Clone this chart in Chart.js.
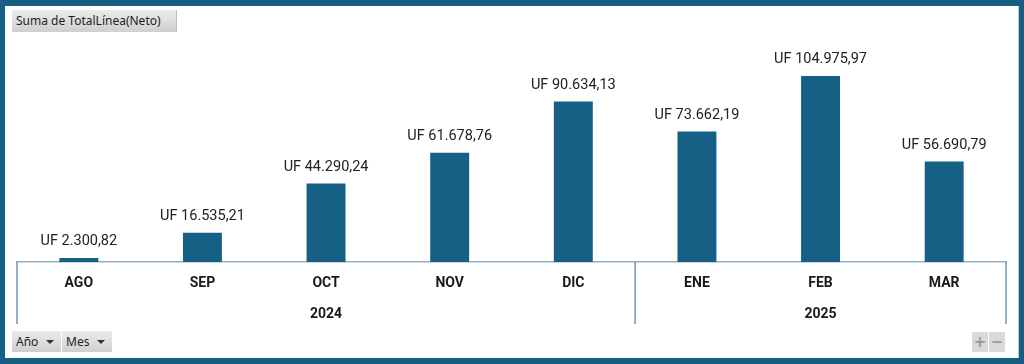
<!DOCTYPE html>
<html>
<head>
<meta charset="utf-8">
<script src="https://cdn.jsdelivr.net/npm/chart.js@4.4.1/dist/chart.umd.min.js"></script>
<style>
  html, body { margin: 0; padding: 0; }
  body { width: 1024px; height: 364px; background: #175f82; position: relative; overflow: hidden; }
  #panel { position: absolute; left: 5px; top: 6px; width: 1013px; height: 352px; background: #fff; border-right: 1px solid #c8c8c8; }
  #c { position: absolute; left: 0; top: 0; }
  .btn { position: absolute; font-family: "Noto Sans", "Open Sans", sans-serif; font-size: 12px; color: #1e1e1e;
         background: linear-gradient(to bottom, #ebebeb, #cfcfcf); box-sizing: border-box; line-height: 21px; }
  #fieldTop { left: 12px; top: 10px; width: 165px; height: 22px; padding-left: 4px; border-right: 1px solid #bdbdbd; }
  #anio { left: 12px; top: 331px; width: 49px; height: 21px; padding-left: 4px; }
  #mes { left: 62px; top: 331px; width: 50px; height: 21px; padding-left: 4px; }
  .arr { position: absolute; right: 7px; top: 9px; width: 0; height: 0; border-left: 4px solid transparent; border-right: 4px solid transparent; border-top: 4px solid #333; }
  .pm { position: absolute; top: 332px; width: 16px; height: 20px; background: #d9d9d9; color: #9a9a9a;
        font-family: "DejaVu Sans", sans-serif; font-size: 15px; font-weight: bold; text-align: center; line-height: 20px; }
  #plus { left: 972px; }
  #minus { left: 989px; }
</style>
</head>
<body>
<div id="panel"></div>
<canvas id="c" width="1024" height="364"></canvas>
<div class="btn" id="fieldTop">Suma de TotalLínea(Neto)</div>
<div class="btn" id="anio">Año<span class="arr"></span></div>
<div class="btn" id="mes">Mes<span class="arr"></span></div>
<div class="pm" id="plus">+</div>
<div class="pm" id="minus">−</div>
<script>
const months = ['AGO', 'SEP', 'OCT', 'NOV', 'DIC', 'ENE', 'FEB', 'MAR'];
const yearLabels = ['', '', '2024', '', '', '', '2025', ''];
const values = [2300.82, 16535.21, 44290.24, 61678.76, 90634.13, 73662.19, 104975.97, 56690.79];
const yearBreakAfter = [4]; // index of last month of each year except final

function fmtUF(v) {
  const parts = v.toFixed(2).split('.');
  const intPart = parts[0].replace(/\B(?=(\d{3})+(?!\d))/g, '.');
  return 'UF ' + intPart + ',' + parts[1];
}

const labelPlugin = {
  id: 'valueLabels',
  afterDatasetsDraw(chart) {
    const ctx = chart.ctx;
    const meta = chart.getDatasetMeta(0);
    ctx.save();
    ctx.font = '14.5px Roboto, "Liberation Sans", sans-serif';
    ctx.fillStyle = '#222';
    ctx.textAlign = 'center';
    ctx.textBaseline = 'bottom';
    meta.data.forEach((bar, i) => {
      ctx.fillText(fmtUF(values[i]), bar.x, bar.y - 9);
    });
    ctx.restore();
  }
};

const sepPlugin = {
  id: 'separators',
  afterDraw(chart) {
    const xs = chart.scales.x;
    const ctx = chart.ctx;
    const top = chart.chartArea.bottom;
    const bottom = top + 62;
    const positions = [xs.left];
    yearBreakAfter.forEach(i => positions.push((xs.getPixelForValue(i) + xs.getPixelForValue(i + 1)) / 2));
    positions.push(xs.right);
    ctx.save();
    ctx.strokeStyle = '#6c97b5';
    ctx.lineWidth = 1.5;
    positions.forEach(p => {
      ctx.beginPath();
      ctx.moveTo(p, top);
      ctx.lineTo(p, bottom);
      ctx.stroke();
    });
    ctx.restore();
  }
};

const tickFont = { family: 'Roboto, "Liberation Sans", sans-serif', size: 14, weight: 'bold' };

new Chart(document.getElementById('c'), {
  type: 'bar',
  data: {
    labels: months,
    datasets: [{
      data: values,
      backgroundColor: '#176085',
      borderWidth: 0,
      categoryPercentage: 1,
      barPercentage: 0.315
    }]
  },
  options: {
    responsive: false,
    animation: false,
    events: [],
    layout: { padding: { left: 17, right: 18, top: 40.5, bottom: 32 } },
    plugins: { legend: { display: false }, tooltip: { enabled: false } },
    scales: {
      y: { display: false, min: 0, max: 125000 },
      x: {
        position: 'bottom',
        grid: { display: false, drawTicks: false },
        border: { display: true, color: '#8db1ca', width: 1.5 },
        ticks: { color: '#1a1a1a', font: tickFont, padding: 13, maxRotation: 0, autoSkip: false },
        afterFit(s) { s.height = 40; }
      },
      x2: {
        position: 'bottom',
        labels: yearLabels,
        grid: { display: false, drawTicks: false },
        border: { display: false },
        ticks: { color: '#1a1a1a', font: tickFont, padding: 4, maxRotation: 0, autoSkip: false },
        afterFit(s) { s.height = 30; }
      }
    }
  },
  plugins: [labelPlugin, sepPlugin]
});
</script>
</body>
</html>
